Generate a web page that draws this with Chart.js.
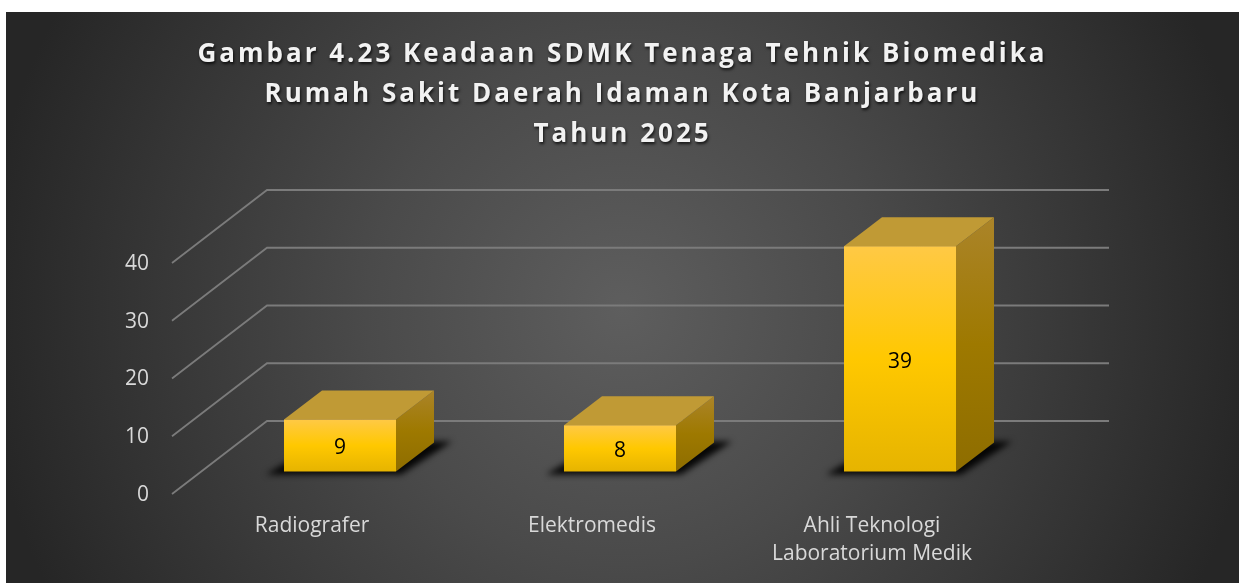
<!DOCTYPE html>
<html>
<head>
<meta charset="utf-8">
<script src="https://cdn.jsdelivr.net/npm/chart.js@4"></script>
<style>
html,body{margin:0;padding:0;background:#fff;width:1239px;height:583px;overflow:hidden}
#wrap{position:absolute;left:6px;top:12px;width:1233px;height:571px;background:radial-gradient(circle 640px at 50% 52%,#5e5e5e 0%,#4a4a4a 40%,#262626 100%)}
canvas{display:block}
</style>
</head>
<body>
<div id="wrap"><canvas id="c" width="1233" height="571"></canvas></div>
<script>
const titleLines = ["Gambar 4.23 Keadaan SDMK Tenaga Tehnik Biomedika","Rumah Sakit Daerah Idaman Kota Banjarbaru","Tahun 2025"];
const categories = ["Radiografer","Elektromedis",["Ahli Teknologi","Laboratorium Medik"]];
const values = [9,8,39];
const yTicks = [0,10,20,30,40];

const FONT = "'Open Sans', sans-serif";
const RIGHT_PAD = 227;
// 3D projection
const WALL = {dx:95, dy:-73, right:1103};
const BAR = {dx:28, dy:-22.5, depthX:38, depthY:-29};

const plugin3d = {
  id:'plugin3d',
  beforeDraw(chart){
    const tb = chart.titleBlock;
    if(tb && !tb._wrapped){
      const d = tb.draw;
      tb.draw = function(){
        const ctx = chart.ctx;
        ctx.save();
        ctx.translate(RIGHT_PAD/2, 0);
        ctx.letterSpacing = '3px';
        ctx.shadowColor = 'rgba(0,0,0,0.75)';
        ctx.shadowOffsetX = 1; ctx.shadowOffsetY = 2; ctx.shadowBlur = 3;
        d.call(tb);
        ctx.restore();
      };
      tb._wrapped = true;
    }
  },
  beforeDatasetsDraw(chart){
    const {ctx, scales:{y}, chartArea:a} = chart;
    ctx.save();
    ctx.strokeStyle = '#7b7b7b';
    ctx.lineWidth = 1.8;
    y.ticks.forEach(t=>{
      const py = y.getPixelForValue(t.value);
      ctx.beginPath();
      ctx.moveTo(a.left, py);
      ctx.lineTo(a.left+WALL.dx, py+WALL.dy);
      ctx.lineTo(WALL.right, py+WALL.dy);
      ctx.stroke();
    });
    ctx.restore();
  },
  beforeDatasetDraw(chart,args){
    const {ctx} = chart;
    const meta = args.meta;
    ctx.save();
    ctx.translate(BAR.dx, BAR.dy);
    meta.data.forEach(el=>{
      const l = el.x-el.width/2, r = el.x+el.width/2, t = el.y, b = el.base;
      const dx = BAR.depthX, dy = BAR.depthY;
      // floor shadow
      ctx.save();
      ctx.fillStyle = 'rgba(0,0,0,0.92)';
      ctx.filter = 'blur(3px)';
      ctx.beginPath();
      ctx.moveTo(l-18,b+3);
      ctx.lineTo(r+5,b+3);
      ctx.lineTo(r+dx+18,b+dy-1);
      ctx.lineTo(l+dx,b+dy-1);
      ctx.closePath();
      ctx.fill();
      ctx.restore();
      // right face
      const gr = ctx.createLinearGradient(0,t+dy,0,b);
      gr.addColorStop(0,'#ab8429');gr.addColorStop(0.5,'#9e7900');gr.addColorStop(1,'#8e6d00');
      ctx.fillStyle = gr;
      ctx.beginPath();
      ctx.moveTo(r,t);ctx.lineTo(r+dx,t+dy);ctx.lineTo(r+dx,b+dy);ctx.lineTo(r,b);ctx.closePath();
      ctx.fill();
      // top face
      ctx.fillStyle = '#c09a35';
      ctx.beginPath();
      ctx.moveTo(l,t);ctx.lineTo(l+dx,t+dy);ctx.lineTo(r+dx,t+dy);ctx.lineTo(r,t);ctx.closePath();
      ctx.fill();
    });
  },
  afterDatasetDraw(chart,args){
    const {ctx} = chart;
    const ds = chart.data.datasets[args.index];
    ctx.fillStyle = '#000';
    ctx.font = "21px "+FONT;
    ctx.textAlign = 'center';
    ctx.textBaseline = 'middle';
    args.meta.data.forEach((el,i)=>{
      ctx.fillText(String(ds.data[i]), el.x, (el.y+el.base)/2+3);
    });
    ctx.restore();
  }
};

new Chart(document.getElementById('c'),{
  type:'bar',
  data:{
    labels:categories,
    datasets:[{
      data:values,
      clip:false,
      barPercentage:0.4,
      categoryPercentage:1,
      borderWidth:0,
      backgroundColor(c){
        const s = c.chart.scales.y;
        const top = s ? s.getPixelForValue(c.raw) : NaN, bot = s ? s.getPixelForValue(0) : NaN;
        if(!isFinite(top) || !isFinite(bot)) return '#ffc800';
        const g = c.chart.ctx.createLinearGradient(0,top,0,bot);
        g.addColorStop(0,'#ffc945');g.addColorStop(0.5,'#ffc800');g.addColorStop(1,'#e6b400');
        return g;
      }
    }]
  },
  options:{
    responsive:false,
    animation:false,
    layout:{padding:{top:0,left:0,right:RIGHT_PAD,bottom:0}},
    plugins:{
      legend:{display:false},
      tooltip:{enabled:false},
      title:{
        display:true,
        text:titleLines,
        color:'#f2f2f2',
        font:{family:FONT,size:26,weight:'bold',lineHeight:1.5385},
        padding:{top:23,bottom:108}
      }
    },
    scales:{
      x:{
        grid:{display:false,drawTicks:false},
        border:{display:false},
        ticks:{color:'#d9d9d9',font:{family:FONT,size:21,lineHeight:1.33},padding:18,maxRotation:0,autoSkip:false},
        afterFit(s){s.height=89;}
      },
      y:{
        min:0,max:40,
        afterBuildTicks(s){s.ticks=yTicks.map(v=>({value:v}));},
        grid:{display:false,drawTicks:false},
        border:{display:false},
        ticks:{color:'#d9d9d9',font:{family:FONT,size:21},padding:23,labelOffset:1},
        afterFit(s){s.width=166;}
      }
    }
  },
  plugins:[plugin3d]
});
</script>
</body>
</html>
